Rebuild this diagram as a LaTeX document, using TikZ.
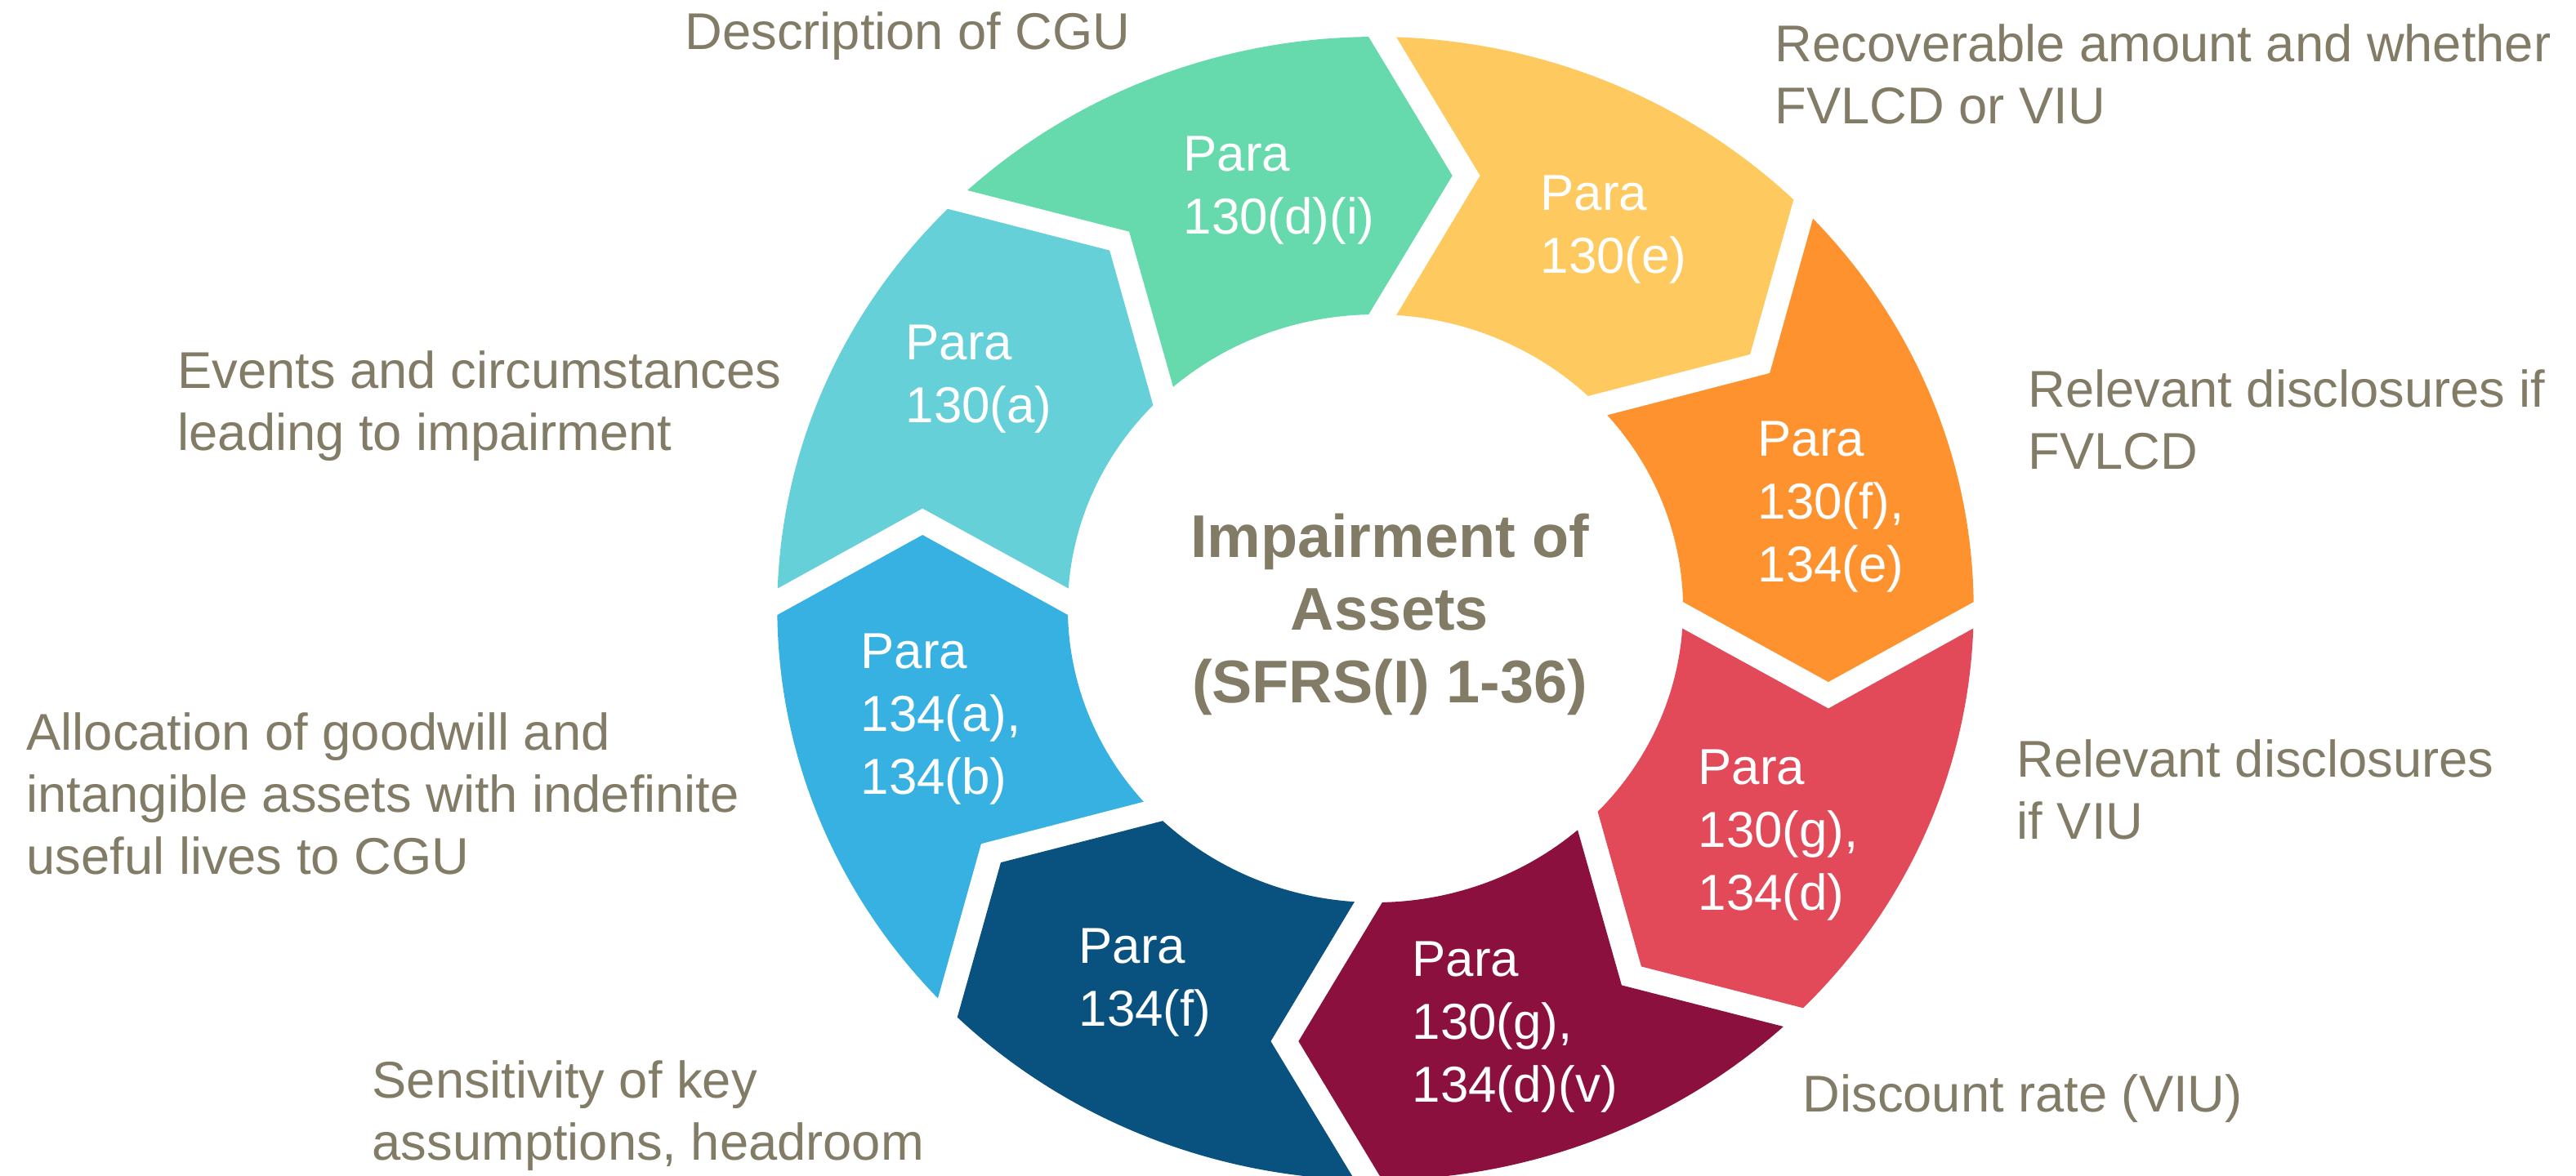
\documentclass[tikz,border=0pt]{standalone}
\usepackage{fontspec}
\setmainfont{Liberation Sans}
\definecolor{txt}{HTML}{827C67}
\definecolor{cgreen}{HTML}{66D9AD}
\definecolor{cyellow}{HTML}{FECA5F}
\definecolor{corange}{HTML}{FE922E}
\definecolor{cred}{HTML}{E24A59}
\definecolor{cmaroon}{HTML}{8B103E}
\definecolor{cnavy}{HTML}{09527F}
\definecolor{cblue}{HTML}{36B1E2}
\definecolor{cteal}{HTML}{66D0D9}
\begin{document}
\begin{tikzpicture}[
  segtext/.style={anchor=base west, text=white, inner sep=0pt, align=left,
    font=\fontsize{17.6}{21.9}\selectfont},
  note/.style={anchor=base west, text=txt, inner sep=0pt, align=left,
    font=\fontsize{18}{21.6}\selectfont},
  title/.style={anchor=base, text=txt, inner sep=0pt, align=center,
    font=\bfseries\fontsize{21}{25.3}\selectfont},
]
% page frame (1 cm = 100 px)
\clip (0,0) rectangle (31.53,-14.39);
\fill[white] (0,0) rectangle (31.53,-14.39);

% ring of eight chevron segments, clockwise
\begin{scope}[shift={(16.835,-7.45)}, xscale=1.046]
\foreach \s/\c in {135/cgreen, 90/cyellow, 45/corange, 0/cred,
                   -45/cmaroon, -90/cnavy, -135/cblue, 180/cteal}{
  \pgfmathsetmacro{\e}{\s-45}
  \fill[\c] (\s-2.006:7) arc[start angle=\s-2.006, end angle=\e+0.655, radius=7]
    -- (\e-9.638:5.3758)
    -- (\e+1.273:3.6) arc[start angle=\e+1.273, end angle=\s-3.902, radius=3.6]
    -- (\s-13.014:5.4397) -- cycle;
}
\end{scope}

% segment texts (anchored at the baseline of the last line)
\node[segtext] (sg) at (14.48,-2.86) {Para\\130(d)(i)};
\node[segtext] (sy) at (18.85,-3.34) {Para\\130(e)};
\node[segtext] (so) at (21.51,-7.12) {Para\\130(f),\\134(e)};
\node[segtext] (sr) at (20.78,-11.14) {Para\\130(g),\\134(d)};
\node[segtext] (sm) at (17.28,-13.49) {Para\\130(g),\\134(d)(v)};
\node[segtext] (sn) at (13.20,-12.56) {Para\\134(f)};
\node[segtext] (sb) at (10.53,-9.72) {Para\\134(a),\\134(b)};
\node[segtext] (st) at (11.08,-5.17) {Para\\130(a)};

% centre title
\node[title] (ttl) at (17.01,-8.60) {Impairment of\\Assets\\(SFRS(I) 1-36)};

% outer descriptions
\node[note] (lg) at (8.38,-0.60) {Description of CGU};
\node[note] (ly) at (21.72,-1.51) {Recoverable amount and whether\\FVLCD or VIU};
\node[note] (lo) at (24.82,-5.74) {Relevant disclosures if\\FVLCD};
\node[note] (lr) at (24.68,-10.27) {Relevant disclosures\\if VIU};
\node[note] (lm) at (22.06,-13.61) {Discount rate (VIU)};
\node[note] (ln) at (4.55,-14.20) {Sensitivity of key\\assumptions, headroom};
\node[note] (lb) at (0.32,-10.70) {Allocation of goodwill and\\intangible assets with indefinite\\useful lives to CGU};
\node[note] (lt) at (2.17,-5.51) {Events and circumstances\\leading to impairment};
\end{tikzpicture}
\end{document}
